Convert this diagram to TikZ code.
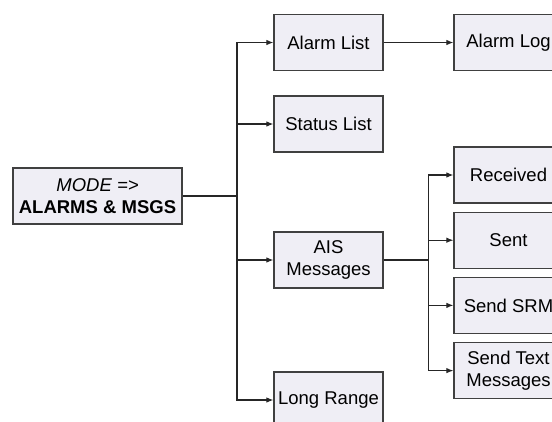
\documentclass[tikz,border=0pt]{standalone}
\usepackage{fontspec}
\setmainfont{Liberation Sans}
\usepackage{xcolor}
\usetikzlibrary{arrows.meta,positioning}

\definecolor{boxfill}{HTML}{EFEEF5}
\definecolor{boxline}{HTML}{404040}

\begin{document}
\begin{tikzpicture}[
    x=1pt, y=-1pt,
    node distance=8pt,
    font=\fontsize{18.5}{21.5}\selectfont,
    menubox/.style={draw=boxline, fill=boxfill, line width=1.2pt, minimum width=109pt, minimum height=56pt, align=center, inner sep=2pt},
    modebox/.style={menubox, minimum width=169pt},
    arrow/.style={->, >={Latex[length=7pt,width=5.5pt]}, line width=1.1pt, color=black!85}
]
    \clip (0,0) rectangle (552,421);

    \node[modebox] (mode) at (97.5,196) {\textit{MODE =>}\\\textbf{ALARMS \& MSGS}};

    \node[menubox] (alarmlist) at (328.5,42.5) {Alarm List};
    \node[menubox] (statuslist) at (328.5,124) {Status List};
    \node[menubox] (ais) at (328.5,260) {AIS\\Messages};
    \node[menubox] (longrange) at (328.5,400) {Long Range};

    \node[menubox] (alarmlog) at (508.5,42.5) {Alarm Log};
    \node[menubox] (received) at (508.5,175) {Received};
    \node[menubox, below=of received] (sent) {Sent};
    \node[menubox, below=of sent] (sendsrm) {Send SRM};
    \node[menubox, below=of sendsrm] (sendtext) {Send Text\\Messages};

    \coordinate (trunk) at (237,196);
    \coordinate[right=45pt of ais.east] (aisfork);

    \draw[arrow, -] (mode.east |- trunk) -- (trunk);
    \draw[arrow] (trunk) |- (alarmlist.west);
    \draw[arrow] (trunk) |- (statuslist.west);
    \draw[arrow] (trunk) |- (ais.west);
    \draw[arrow] (trunk) |- (longrange.west);

    \draw[arrow] (alarmlist) -- (alarmlog);

    \draw[arrow, -] (ais.east) -- (aisfork);
    \draw[arrow] (aisfork) |- (received.west);
    \draw[arrow] (aisfork) |- (sent.west);
    \draw[arrow] (aisfork) |- (sendsrm.west);
    \draw[arrow] (aisfork) |- (sendtext.west);

\end{tikzpicture}
\end{document}
